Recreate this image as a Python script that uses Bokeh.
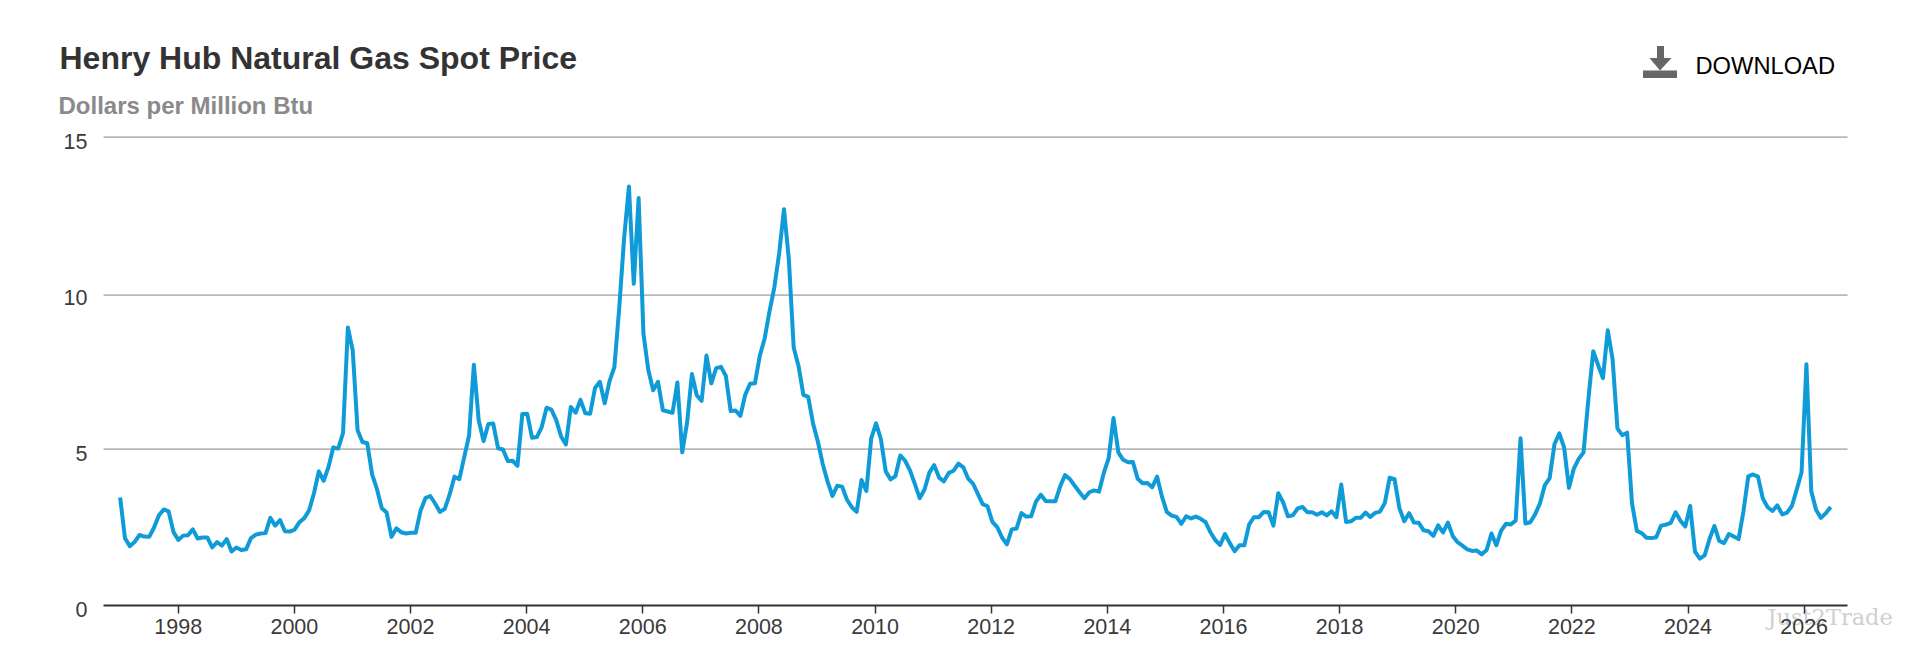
from bokeh.plotting import figure
from bokeh.embed import file_html
from bokeh.resources import INLINE
from bokeh.models import FixedTicker, Label, LinearAxis, PolyAnnotation, Range1d

title_text = "Henry Hub Natural Gas Spot Price"
subtitle_text = "Dollars per Million Btu"
download_text = "DOWNLOAD"
watermark_text = "Just2Trade"

start_year = 1997
prices = [
    3.45, 2.15, 1.89, 2.03, 2.25, 2.20, 2.19, 2.49, 2.88, 3.07, 3.01, 2.35,
    2.09, 2.23, 2.24, 2.43, 2.14, 2.17, 2.17, 1.85, 2.02, 1.91, 2.12, 1.72,
    1.85, 1.77, 1.79, 2.15, 2.26, 2.30, 2.31, 2.80, 2.55, 2.73, 2.37, 2.36,
    2.42, 2.66, 2.79, 3.04, 3.59, 4.29, 3.99, 4.43, 5.06, 5.02, 5.52, 8.90,
    8.17, 5.61, 5.23, 5.19, 4.19, 3.72, 3.11, 2.97, 2.19, 2.46, 2.34, 2.30,
    2.32, 2.32, 3.03, 3.43, 3.50, 3.26, 2.99, 3.09, 3.55, 4.12, 4.04, 4.74,
    5.43, 7.71, 5.93, 5.26, 5.81, 5.82, 5.03, 4.99, 4.62, 4.63, 4.47, 6.13,
    6.14, 5.37, 5.39, 5.71, 6.33, 6.27, 5.93, 5.41, 5.15, 6.35, 6.17, 6.58,
    6.15, 6.14, 6.96, 7.16, 6.47, 7.18, 7.63, 9.53, 11.75, 13.42, 10.30, 13.05,
    8.69, 7.54, 6.89, 7.16, 6.25, 6.21, 6.17, 7.14, 4.90, 5.85, 7.41, 6.73,
    6.55, 8.00, 7.11, 7.60, 7.64, 7.35, 6.22, 6.24, 6.07, 6.74, 7.10, 7.11,
    7.99, 8.54, 9.41, 10.18, 11.27, 12.69, 11.09, 8.26, 7.67, 6.74, 6.68, 5.82,
    5.24, 4.52, 3.96, 3.50, 3.83, 3.80, 3.38, 3.14, 2.99, 4.01, 3.66, 5.35,
    5.83, 5.32, 4.29, 4.03, 4.14, 4.80, 4.63, 4.32, 3.89, 3.43, 3.71, 4.25,
    4.49, 4.09, 3.97, 4.24, 4.31, 4.54, 4.42, 4.06, 3.90, 3.57, 3.24, 3.17,
    2.67, 2.50, 2.17, 1.95, 2.43, 2.46, 2.95, 2.84, 2.85, 3.32, 3.54, 3.34,
    3.33, 3.33, 3.81, 4.17, 4.04, 3.83, 3.62, 3.43, 3.62, 3.68, 3.64, 4.24,
    4.71, 6.00, 4.90, 4.66, 4.58, 4.59, 4.05, 3.91, 3.92, 3.78, 4.12, 3.48,
    2.99, 2.87, 2.83, 2.61, 2.85, 2.78, 2.84, 2.77, 2.66, 2.34, 2.09, 1.93,
    2.28, 1.99, 1.73, 1.92, 1.92, 2.59, 2.82, 2.82, 2.99, 2.98, 2.55, 3.59,
    3.30, 2.85, 2.88, 3.10, 3.15, 2.98, 2.98, 2.90, 2.98, 2.88, 3.01, 2.82,
    3.87, 2.67, 2.69, 2.80, 2.80, 2.97, 2.83, 2.96, 3.00, 3.28, 4.09, 4.04,
    3.11, 2.69, 2.95, 2.65, 2.64, 2.40, 2.37, 2.22, 2.56, 2.33, 2.65, 2.22,
    2.02, 1.91, 1.79, 1.74, 1.75, 1.63, 1.77, 2.30, 1.92, 2.39, 2.61, 2.59,
    2.71, 5.35, 2.62, 2.66, 2.91, 3.26, 3.84, 4.07, 5.16, 5.51, 5.05, 3.76,
    4.38, 4.69, 4.90, 6.60, 8.14, 7.70, 7.28, 8.81, 7.88, 5.66, 5.45, 5.53,
    3.27, 2.38, 2.31, 2.16, 2.15, 2.18, 2.55, 2.58, 2.64, 2.98, 2.71, 2.52,
    3.18, 1.72, 1.49, 1.60, 2.12, 2.54, 2.06, 1.99, 2.28, 2.20, 2.12, 3.01,
    4.13, 4.19, 4.12, 3.42, 3.14, 3.02, 3.20, 2.91, 2.97, 3.18, 3.71, 4.26,
    7.72, 3.65, 3.05, 2.80, 2.95, 3.15,
]
x_tick_years = list(range(1998, 2027, 2))
y_ticks = [0, 5, 10, 15]
# heights at which the reference's horizontal rules are actually drawn
rule_levels = [5, 9.94, 15]

# the curve runs very slightly wider than the year ticks in the reference
MONTH_SPREAD = 1.00135
months = [start_year + i / 12 * MONTH_SPREAD for i in range(len(prices))]

# The frame fills the whole canvas so that texts and the icon outside the plot area are not clipped.
W, H = 1894, 644
PX_PER_YEAR = 58.07
PX_PER_UNIT = 31.2
PLOT_LEFT, PLOT_RIGHT, PLOT_BOTTOM = 103, 1847, 604.7
x_of = lambda px: 1998 + (px - 177.7) / PX_PER_YEAR
y_of = lambda py: (PLOT_BOTTOM - py) / PX_PER_UNIT

p = figure(width=W, height=H, output_backend="svg", toolbar_location=None,
           x_range=Range1d(x_of(0), x_of(W)), y_range=Range1d(y_of(H), y_of(0)),
           min_border=0, x_axis_location=None, y_axis_location=None)
p.outline_line_color = None
p.grid.visible = False

p.segment(x0=[x_of(PLOT_LEFT)] * len(rule_levels), x1=[x_of(PLOT_RIGHT)] * len(rule_levels),
          y0=rule_levels, y1=rule_levels,
          line_color="#b8b8b8", line_width=1.7, level="underlay")

ax = LinearAxis(fixed_location=0, bounds=(x_of(PLOT_LEFT), x_of(PLOT_RIGHT)),
                ticker=FixedTicker(ticks=x_tick_years),
                major_label_overrides={y: str(y) for y in x_tick_years})
ax.axis_line_color = "#333333"
ax.axis_line_width = 2
ax.major_tick_line_color = "#333333"
ax.major_tick_line_width = 1.5
ax.major_tick_in = 0
ax.major_tick_out = 8
ax.minor_tick_line_color = None
ax.major_label_text_font = "Liberation Sans"
ax.major_label_text_font_size = "21.5px"
ax.major_label_text_color = "#3a3a3a"
ax.major_label_standoff = 6
p.add_layout(ax, "below")

p.line(months, prices, line_color="#0f9bd7", line_width=4, line_join="round")


def lab(txt, x, y, size, color, bold=False, font="Liberation Sans", align="left", y_units="screen", y_offset=0, level="annotation"):
    p.add_layout(Label(text=txt, x=x, y=y, x_units="screen", y_units=y_units, text_font=font,
                       text_font_size=size, text_color=color, text_baseline="middle", text_align=align,
                       y_offset=y_offset, level=level,
                       text_font_style="bold" if bold else "normal"))


for t in y_ticks:
    lab(str(t), 87, t, "21.5px", "#3a3a3a", align="right", y_units="data", y_offset=-4)

lab(title_text, 59, H - 57, "32px", "#333333", True)
lab(subtitle_text, 58, H - 105, "24px", "#8a8a8a", True)
lab(download_text, 1695, H - 65, "23.7px", "#000000")
lab(watermark_text, 1767, H - 616, "22.5px", "#d0d0d0", font="DejaVu Serif", level="underlay")

# download icon: base bar and arrow, in page pixels from the top
for xs, ys in [
    ([1642.5, 1676.5, 1676.5, 1642.5], [70, 70, 77.5, 77.5]),
    ([1656.5, 1663.5, 1663.5, 1671, 1659.5, 1649, 1656.5], [45.5, 45.5, 57.5, 57.5, 70, 57.5, 57.5]),
]:
    p.add_layout(PolyAnnotation(xs=xs, ys=[H - v for v in ys], xs_units="screen", ys_units="screen",
                                fill_color="#666666", fill_alpha=1, line_color=None, editable=False))

open("out.html", "w").write(file_html(p, INLINE))
